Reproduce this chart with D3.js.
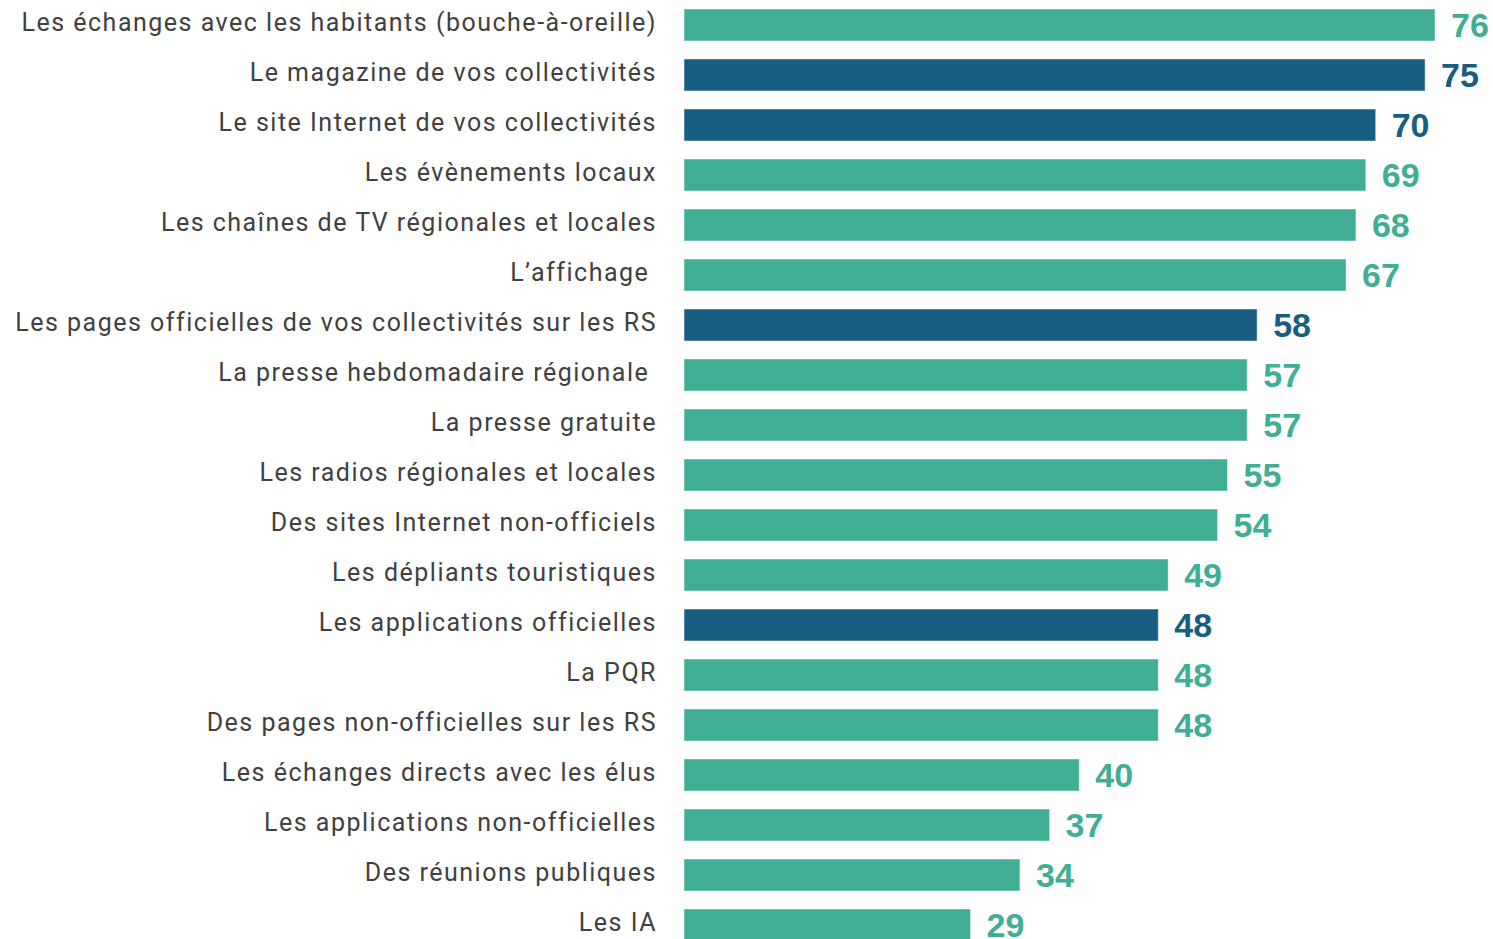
<!DOCTYPE html>
<html>
<head>
  <meta charset="utf-8">
  <title>Canaux d'information</title>
  <style>
   html, body { margin: 0; padding: 0; background: #fff; }
   #chart { width: 1493px; height: 939px; }
   .cat { font-family: Roboto, "Liberation Sans", sans-serif; font-size: 25px; letter-spacing: 1.5px; fill: #404040; }
   .val { font-family: "Liberation Sans", Arial, sans-serif; font-size: 34px; font-weight: bold; }
  </style>
</head>
<body>
  <div id="chart"></div>
  <script src="https://d3js.org/d3.v7.min.js"></script>
  <script>
// data
var categories = [
  "Les échanges avec les habitants (bouche-à-oreille)",
  "Le magazine de vos collectivités",
  "Le site Internet de vos collectivités",
  "Les évènements locaux",
  "Les chaînes de TV régionales et locales",
  "L’affichage\u00a0",
  "Les pages officielles de vos collectivités sur les RS",
  "La presse hebdomadaire régionale\u00a0",
  "La presse gratuite",
  "Les radios régionales et locales",
  "Des sites Internet non-officiels",
  "Les dépliants touristiques",
  "Les applications officielles",
  "La PQR",
  "Des pages non-officielles sur les RS",
  "Les échanges directs avec les élus",
  "Les applications non-officielles",
  "Des réunions publiques",
  "Les IA"
];
var values = [76, 75, 70, 69, 68, 67, 58, 57, 57, 55, 54, 49, 48, 48, 48, 40, 37, 34, 29];
// official channels drawn in dark blue
var official = [false, true, true, false, false, false, true, false, false, false, false, false, true, false, false, false, false, false, false];

var teal = "#3FAE95";
var blue = "#175E82";

var width = 1493, height = 939;
var barLeft = 684;

var svg = d3.select("#chart").append("svg")
  .attr("width", width)
  .attr("height", height);

var x = d3.scaleLinear().domain([0, 76]).range([barLeft, 1435]);
var y = d3.scaleBand().domain(categories).range([0, 950]).paddingInner(0.36).paddingOuter(0.18);

var rows = svg.selectAll(".row")
  .data(categories)
  .enter()
  .append("g")
  .attr("class", "row");

rows.append("rect")
  .attr("x", x(0))
  .attr("y", function(d) { return y(d); })
  .attr("width", function(d, i) { return x(values[i]) - x(0); })
  .attr("height", y.bandwidth())
  .attr("fill", function(d, i) { return official[i] ? blue : teal; })
  .attr("stroke", "#ffffff")
  .attr("stroke-opacity", 0.5)
  .attr("stroke-width", 1);

rows.append("text")
  .attr("class", "cat")
  .attr("x", 657)
  .attr("y", function(d) { return y(d) + y.bandwidth() / 2 - 3; })
  .attr("dy", "0.35em")
  .attr("text-anchor", "end")
  .text(function(d) { return d; });

rows.append("text")
  .attr("class", "val")
  .attr("x", function(d, i) { return x(values[i]) + 16; })
  .attr("y", function(d) { return y(d) + y.bandwidth() / 2; })
  .attr("dy", "0.36em")
  .attr("fill", function(d, i) { return official[i] ? blue : teal; })
  .text(function(d, i) { return values[i]; });
  </script>
</body>
</html>
